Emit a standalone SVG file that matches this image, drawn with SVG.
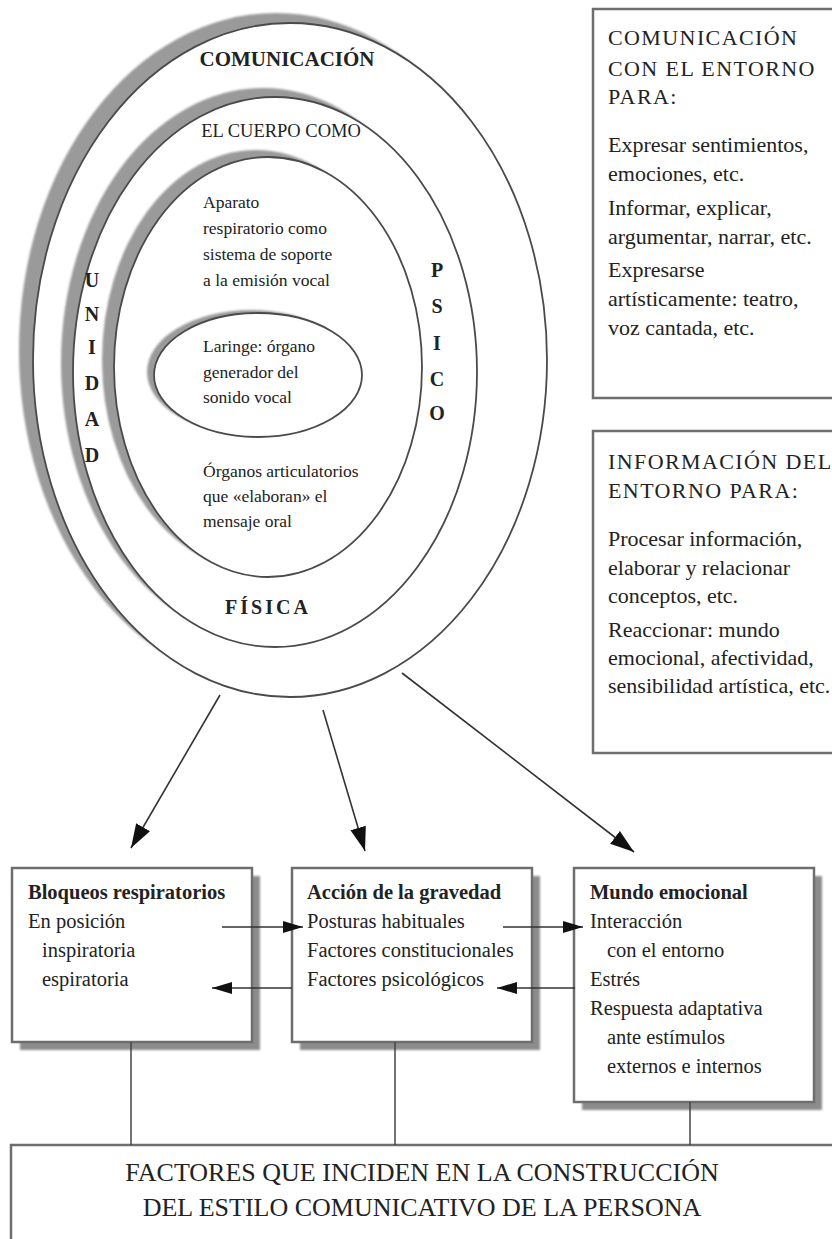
<svg xmlns="http://www.w3.org/2000/svg" width="832" height="1239" viewBox="0 0 832 1239">
<style>
text{font-family:"Liberation Serif","DejaVu Serif",serif;fill:#222}
.ring{fill:#fff;stroke:#4a4a4a;stroke-width:1.8}
.shade{fill:#9a9a9a;filter:url(#soft)}
.s{font-size:17.5px}
.b{font-size:22px}
.caps{letter-spacing:1.4px}
.f{font-size:20.5px}
.bold{font-weight:bold}
.vert{font-size:20px;font-weight:bold;text-anchor:middle}
.box{fill:#fff;stroke:#6e6e6e;stroke-width:2.5}
.bshadow{fill:#8c8c8c;filter:url(#soft)}
.conn{stroke:#333;stroke-width:1.6;fill:none}
.link{stroke:#444;stroke-width:1.5;fill:none}
</style>
<defs>
<filter id="soft" x="-10%" y="-10%" width="120%" height="120%"><feGaussianBlur stdDeviation="1.2"/></filter>
<marker id="ah" markerUnits="userSpaceOnUse" markerWidth="22" markerHeight="14" refX="20" refY="6" orient="auto"><path d="M0,0 L20,6 L0,12 z" fill="#111"/></marker>
<marker id="ahb" markerUnits="userSpaceOnUse" markerWidth="26" markerHeight="18" refX="24" refY="8" orient="auto"><path d="M0,0 L24,8 L0,16 z" fill="#111"/></marker>
</defs>
<rect width="832" height="1239" fill="#fff"/>

<g id="comunicacion">
<ellipse class="shade" cx="276" cy="350" rx="257" ry="337"/>
<ellipse class="ring" cx="290" cy="360" rx="257" ry="337"/>
<text x="287" y="66" class="bold" font-size="21" text-anchor="middle">COMUNICACIÓN</text>
</g>

<g id="cuerpo">
<ellipse class="shade" cx="263" cy="363" rx="202" ry="275"/>
<ellipse class="ring" cx="275" cy="372" rx="202" ry="275"/>
<text x="281" y="137" font-size="18.5" text-anchor="middle">EL CUERPO COMO</text>
<text class="vert" x="92"><tspan x="92" y="287">U</tspan><tspan x="92" y="321">N</tspan><tspan x="92" y="354">I</tspan><tspan x="92" y="390">D</tspan><tspan x="92" y="426">A</tspan><tspan x="92" y="462">D</tspan></text>
<text class="vert" x="437"><tspan x="437" y="277">P</tspan><tspan x="437" y="313">S</tspan><tspan x="437" y="350">I</tspan><tspan x="437" y="386">C</tspan><tspan x="437" y="420">O</tspan></text>
<text x="268" y="614" class="bold" font-size="20" letter-spacing="3" text-anchor="middle">FÍSICA</text>
</g>

<g id="aparato">
<ellipse class="shade" cx="256" cy="360" rx="154" ry="210"/>
<ellipse class="ring" cx="268" cy="367" rx="154" ry="210"/>
<text class="s" x="203" y="208">Aparato</text>
<text class="s" x="203" y="234">respiratorio como</text>
<text class="s" x="203" y="260">sistema de soporte</text>
<text class="s" x="203" y="286">a la emisión vocal</text>
<text class="s" x="203" y="477">Órganos articulatorios</text>
<text class="s" x="203" y="502">que «elaboran» el</text>
<text class="s" x="203" y="527">mensaje oral</text>
</g>

<g id="laringe">
<ellipse class="shade" cx="251" cy="372" rx="104" ry="62"/>
<ellipse class="ring" cx="258" cy="375" rx="104" ry="62"/>
<text class="s" x="203" y="352">Laringe: órgano</text>
<text class="s" x="203" y="378">generador del</text>
<text class="s" x="203" y="403">sonido vocal</text>
</g>

<g id="comunicacion-entorno">
<rect class="box" x="593" y="9" width="250" height="389"/>
<text class="b caps" x="608" y="45">COMUNICACIÓN</text>
<text class="b caps" x="608" y="76">CON EL ENTORNO</text>
<text class="b caps" x="608" y="104">PARA:</text>
<text class="b" x="608" y="152">Expresar sentimientos,</text>
<text class="b" x="608" y="181">emociones, etc.</text>
<text class="b" x="608" y="215">Informar, explicar,</text>
<text class="b" x="608" y="244">argumentar, narrar, etc.</text>
<text class="b" x="608" y="277">Expresarse</text>
<text class="b" x="608" y="306">artísticamente: teatro,</text>
<text class="b" x="608" y="335">voz cantada, etc.</text>
</g>

<g id="informacion-entorno">
<rect class="box" x="593" y="431" width="250" height="322"/>
<text class="b caps" x="608" y="469">INFORMACIÓN DEL</text>
<text class="b caps" x="608" y="498">ENTORNO PARA:</text>
<text class="b" x="608" y="546">Procesar información,</text>
<text class="b" x="608" y="575">elaborar y relacionar</text>
<text class="b" x="608" y="603">conceptos, etc.</text>
<text class="b" x="608" y="637">Reaccionar: mundo</text>
<text class="b" x="608" y="665">emocional, afectividad,</text>
<text class="b" x="608" y="693">sensibilidad artística, etc.</text>
</g>

<g id="bloqueos">
<rect class="bshadow" x="20" y="876" width="240" height="174"/>
<rect class="box" x="12" y="868" width="240" height="174"/>
<text class="f bold" x="28" y="899">Bloqueos respiratorios</text>
<text class="f" x="28" y="928">En posición</text>
<text class="f" x="42" y="957">inspiratoria</text>
<text class="f" x="42" y="986">espiratoria</text>
</g>

<g id="gravedad">
<rect class="bshadow" x="300" y="876" width="240" height="174"/>
<rect class="box" x="292" y="868" width="240" height="174"/>
<text class="f bold" x="307" y="899">Acción de la gravedad</text>
<text class="f" x="307" y="928">Posturas habituales</text>
<text class="f" x="307" y="957">Factores constitucionales</text>
<text class="f" x="307" y="986">Factores psicológicos</text>
</g>

<g id="emocional">
<rect class="bshadow" x="582" y="876" width="240" height="234"/>
<rect class="box" x="574" y="868" width="240" height="234"/>
<text class="f bold" x="590" y="899">Mundo emocional</text>
<text class="f" x="590" y="928">Interacción</text>
<text class="f" x="607" y="957">con el entorno</text>
<text class="f" x="590" y="986">Estrés</text>
<text class="f" x="590" y="1015">Respuesta adaptativa</text>
<text class="f" x="607" y="1044">ante estímulos</text>
<text class="f" x="607" y="1073">externos e internos</text>
</g>

<g id="factores">
<rect class="box" x="11" y="1145" width="840" height="110"/>
<text x="422" y="1181" font-size="26" text-anchor="middle">FACTORES QUE INCIDEN EN LA CONSTRUCCIÓN</text>
<text x="422" y="1216" font-size="26" text-anchor="middle">DEL ESTILO COMUNICATIVO DE LA PERSONA</text>
</g>

<g id="connectors">
<line class="conn" x1="220" y1="695" x2="131" y2="848" marker-end="url(#ahb)"/>
<line class="conn" x1="323" y1="710" x2="365" y2="851" marker-end="url(#ahb)"/>
<line class="conn" x1="402" y1="673" x2="634" y2="852" marker-end="url(#ahb)"/>
<line class="conn" x1="222" y1="927" x2="303" y2="927" marker-end="url(#ah)"/>
<line class="conn" x1="503" y1="927" x2="583" y2="927" marker-end="url(#ah)"/>
<line class="conn" x1="575" y1="988" x2="497" y2="988" marker-end="url(#ah)"/>
<line class="conn" x1="292" y1="988" x2="212" y2="988" marker-end="url(#ah)"/>
<line class="link" x1="131" y1="1042" x2="131" y2="1145"/>
<line class="link" x1="395" y1="1042" x2="395" y2="1145"/>
<line class="link" x1="690" y1="1102" x2="690" y2="1145"/>
</g>
</svg>
